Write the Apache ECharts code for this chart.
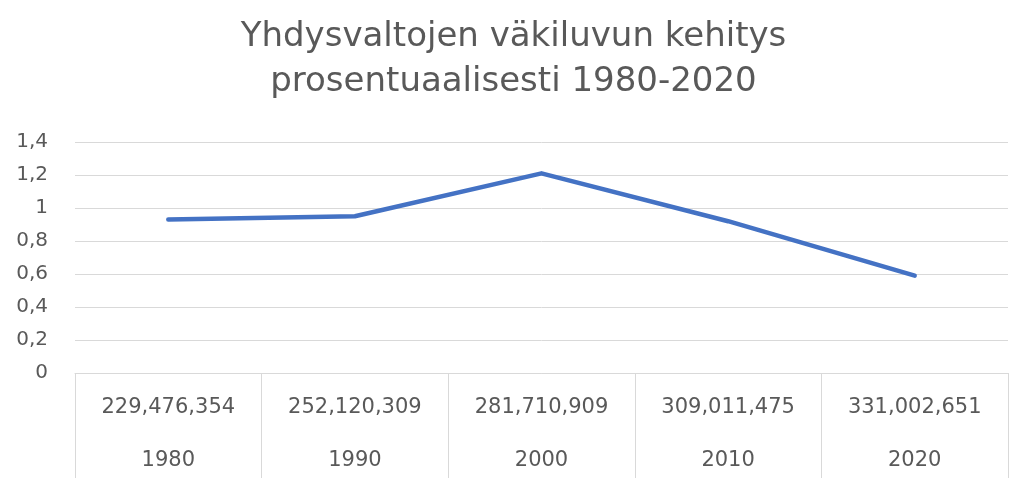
<!DOCTYPE html>
<html>
<head>
<meta charset="utf-8">
<script src="https://cdn.jsdelivr.net/npm/echarts@6/dist/echarts.min.js"></script>
<style>
  html, body { margin: 0; padding: 0; background: #fff; }
  #chart { width: 1027px; height: 486px; }
</style>
</head>
<body>
<div id="chart"></div>
<script>
// väkiluku ja vuodet (kaksitasoinen x-akseli)
var populations = ['229,476,354', '252,120,309', '281,710,909', '309,011,475', '331,002,651'];
var years = ['1980', '1990', '2000', '2010', '2020'];
// kasvu prosentteina
var growth = [0.93, 0.95, 1.21, 0.92, 0.59];
var yTicks = [0, 0.2, 0.4, 0.6, 0.8, 1, 1.2, 1.4];

var chart = echarts.init(document.getElementById('chart'));
var font = '"DejaVu Sans", sans-serif';

chart.setOption({
  title: {
    text: 'Yhdysvaltojen väkiluvun kehitys\nprosentuaalisesti 1980-2020',
    left: 'center',
    top: 10,
    textStyle: {
      fontFamily: font,
      fontSize: 34,
      fontWeight: 'normal',
      color: '#595959',
      lineHeight: 45
    }
  },
  grid: {
    left: 75,
    right: 19,
    top: 142,
    bottom: 113,
    outerBoundsMode: 'none',
    containLabel: false
  },
  xAxis: {
    type: 'category',
    data: years.map(function (y, i) { return populations[i] + '\n' + y; }),
    boundaryGap: true,
    axisLine: { lineStyle: { color: '#d9d9d9', width: 1 } },
    axisTick: {
      show: true,
      interval: 0,
      length: 105,
      lineStyle: { color: '#d9d9d9' }
    },
    axisLabel: {
      interval: 0,
      margin: 8,
      color: '#595959',
      fontFamily: font,
      fontSize: 21,
      lineHeight: 53
    }
  },
  yAxis: {
    type: 'value',
    min: 0,
    max: 1.4,
    interval: 0.2,
    axisLine: { show: false },
    axisTick: { show: false },
    splitLine: { lineStyle: { color: '#d9d9d9', width: 1 } },
    axisLabel: {
      margin: 27,
      color: '#595959',
      fontFamily: font,
      fontSize: 20,
      formatter: function (v) {
        var t = yTicks.filter(function (x) { return Math.abs(x - v) < 1e-6; })[0];
        return String(t !== undefined ? t : v).replace('.', ',');
      }
    }
  },
  series: [{
    type: 'line',
    data: growth,
    symbol: 'none',
    lineStyle: { color: '#4472c4', width: 4.5, cap: 'round', join: 'round' },
    itemStyle: { color: '#4472c4' }
  }]
});
</script>
</body>
</html>
